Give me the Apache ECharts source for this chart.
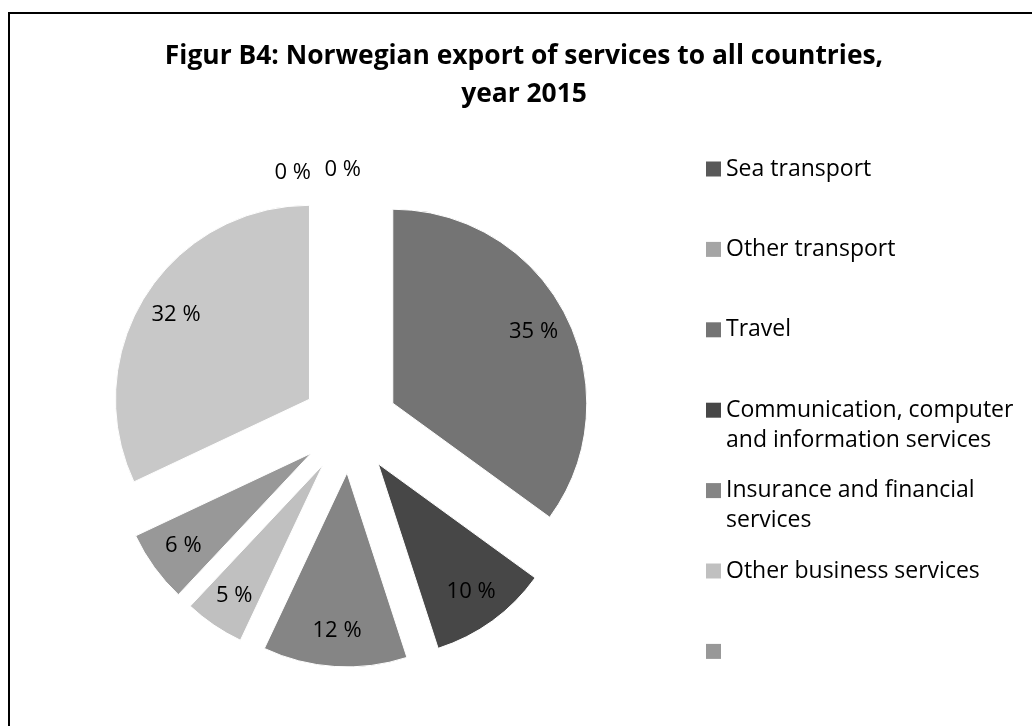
<!DOCTYPE html>
<html>
<head>
<meta charset="utf-8">
<script src="https://cdn.jsdelivr.net/npm/echarts@6/dist/echarts.min.js"></script>
<style>
  html, body { margin: 0; padding: 0; background: #fff; }
  #chart { width: 1032px; height: 726px; }
</style>
</head>
<body>
<div id="chart"></div>
<script>
// categories as in the Excel sheet (last two had no name)
const categories = [
  'Sea transport',
  'Other transport',
  'Travel',
  'Communication, computer and information services',
  'Insurance and financial services',
  'Other business services',
  ' ',
  '  '
]
// share of total export, percent
const shares = [0, 0, 35, 10, 12, 5, 6, 32]
// only the first seven show up in the legend
const legendNames = categories.slice(0, 7)

const sliceColors = ['#595959', '#a5a5a5', '#747474', '#474747', '#858585', '#c0c0c0', '#989898', '#c8c8c8']
// where the 0 % labels sit (above the top of the pie)
const zeroLabelSpots = [
  { length: 58, length2: 34 },
  { length: 61, length2: -16 }
]

const FONT = '"Open Sans", "Noto Sans", sans-serif'
const NBSP = '\u00a0'

// wrap legend text the way excel did
function wrapText(s, max) {
  const words = s.trim().split(' ')
  const lines = []
  let cur = ''
  words.forEach(w => {
    if (cur && (cur + ' ' + w).length > max) {
      lines.push(cur)
      cur = w
    } else {
      cur = cur ? cur + ' ' + w : w
    }
  })
  lines.push(cur)
  return lines
}

const chart = echarts.init(document.getElementById('chart'), null, { renderer: 'canvas' })

let zeroIdx = 0
const mainData = categories.map((name, i) => {
  const v = shares[i]
  const item = {
    name: name,
    value: v,
    selected: v > 0,
    itemStyle: { color: sliceColors[i] }
  }
  if (v === 0) {
    const spot = zeroLabelSpots[zeroIdx++ % zeroLabelSpots.length]
    item.label = { show: true, position: 'outside' }
    item.labelLine = { show: false, length: spot.length, length2: spot.length2 }
  }
  return item
})

const labelData = categories.map((name, i) => ({
  name: name,
  value: shares[i],
  selected: shares[i] > 0,
  itemStyle: { color: 'rgba(0,0,0,0)' },
  label: { show: shares[i] > 0 }
}))

const option = {
  animation: false,
  backgroundColor: '#fff',
  title: {
    text: 'Figur B4: Norwegian export of services to all countries,\nyear 2015',
    left: 524,
    top: 37,
    textAlign: 'center',
    padding: 0,
    textStyle: {
      fontFamily: FONT,
      fontWeight: 'bold',
      fontSize: 26.4,
      lineHeight: 38,
      color: '#000'
    }
  },
  legend: {
    orient: 'vertical',
    left: 706,
    top: 124,
    padding: 0,
    itemWidth: 15,
    itemHeight: 15,
    itemGap: -9.6,
    icon: 'rect',
    selectedMode: false,
    itemStyle: { borderWidth: 0 },
    data: legendNames,
    formatter: function (name) {
      const lines = name.trim() ? wrapText(name, 25) : [NBSP]
      while (lines.length < 2) lines.push(NBSP)
      return [NBSP].concat(lines).join('\n')
    },
    textStyle: {
      fontFamily: FONT,
      fontSize: 23,
      lineHeight: 30,
      color: '#000'
    }
  },
  graphic: [{
    type: 'rect',
    silent: true,
    shape: { x: 9, y: 13, width: 1060, height: 760 },
    style: { fill: 'none', stroke: '#000', lineWidth: 2 }
  }],
  series: [
    {
      type: 'pie',
      center: [350, 425],
      radius: 194,
      startAngle: 90,
      clockwise: true,
      selectedMode: 'multiple',
      selectedOffset: 48,
      avoidLabelOverlap: false,
      emphasis: { disabled: true },
      label: {
        show: false,
        formatter: '{c} %',
        fontFamily: FONT,
        fontSize: 22,
        color: '#000'
      },
      labelLine: { show: false },
      itemStyle: { borderColor: '#fff', borderWidth: 1 },
      data: mainData
    },
    {
      // transparent twin, only there to put the labels near the rim
      type: 'pie',
      center: [350, 425],
      radius: [116, 194],
      startAngle: 90,
      clockwise: true,
      selectedMode: 'multiple',
      selectedOffset: 48,
      silent: true,
      avoidLabelOverlap: false,
      emphasis: { disabled: true },
      label: {
        position: 'inside',
        formatter: '{c} %',
        fontFamily: FONT,
        fontSize: 22,
        color: '#000'
      },
      labelLine: { show: false },
      data: labelData
    }
  ]
}

chart.setOption(option)
</script>
</body>
</html>
